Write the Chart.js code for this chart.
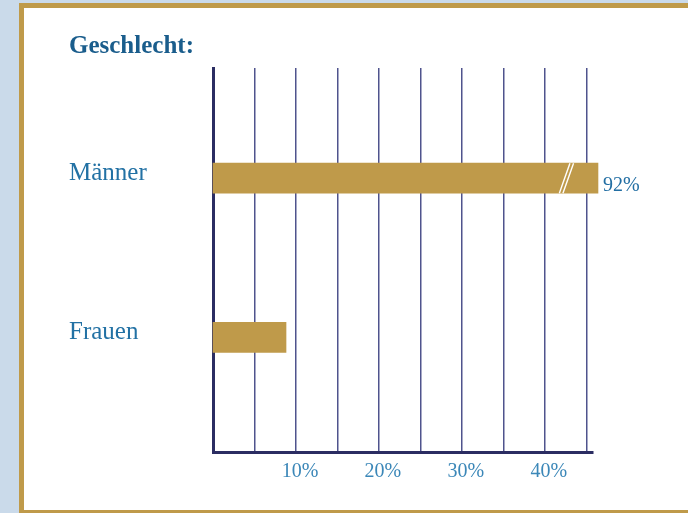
<!DOCTYPE html>
<html lang="de">
<head>
<meta charset="utf-8">
<title>Geschlecht</title>
<script src="https://cdn.jsdelivr.net/npm/chart.js@4"></script>
<style>
  html, body { margin: 0; padding: 0; }
  body { width: 688px; height: 513px; background: #cadaea; position: relative; overflow: hidden; }
  #frame {
    position: absolute; left: 19px; top: 3px; width: 700px; height: 502px;
    border: 5px solid #bf9a4a; background: #ffffff;
  }
  #wrap { position: absolute; left: 0; top: 0; width: 688px; height: 513px; }
</style>
</head>
<body>
<div id="frame"></div>
<div id="wrap"><canvas id="myChart" width="688" height="513"></canvas></div>
<script>
'use strict';

const categories = ['Männer', 'Frauen'];
const percentValues = [92, 8.8];
const valueLabels = ['92%', ''];
const gridValues = [5, 10, 15, 20, 25, 30, 35, 40, 45];
const labeledTicks = [10, 20, 30, 40];
const axisMax = 45.8;
const barCap = 46.4;   // bars above this are drawn broken
const breakAt = 42.6;

const serif = "'Liberation Serif', 'Times New Roman', serif";

// draws the break marks and the value label next to a bar
const barExtras = {
  id: 'barExtras',
  afterDatasetsDraw(chart) {
    const ctx = chart.ctx;
    const meta = chart.getDatasetMeta(0);
    const xScale = chart.scales.x;
    meta.data.forEach(function (bar, i) {
      const top = bar.y - bar.height / 2;
      const bottom = bar.y + bar.height / 2;
      if (percentValues[i] > barCap) {
        const cx = xScale.getPixelForValue(breakAt);
        ctx.save();
        ctx.strokeStyle = '#ffffff';
        ctx.lineWidth = 1.4;
        [-1.8, 1.8].forEach(function (d) {
          ctx.beginPath();
          ctx.moveTo(cx + d - 5.3, bottom);
          ctx.lineTo(cx + d + 5.3, top);
          ctx.stroke();
        });
        ctx.restore();
      }
      if (valueLabels[i]) {
        ctx.save();
        ctx.fillStyle = '#226ea3';
        ctx.font = "20px " + serif;
        ctx.textAlign = 'left';
        ctx.textBaseline = 'alphabetic';
        ctx.fillText(valueLabels[i], bar.x + 5, bar.y + 13);
        ctx.restore();
      }
    });
  }
};

function createChart() {
  const ctx = document.getElementById('myChart').getContext('2d');

  const barData = [];
  for (let i = 0; i < categories.length; i++) {
    barData.push({ x: Math.min(percentValues[i], barCap), y: i });
  }

  new Chart(ctx, {
    type: 'bar',
    data: {
      datasets: [
        {
          data: barData,
          backgroundColor: '#bf9a4a',
          borderWidth: 0,
          barThickness: 30,
          clip: false
        }
      ]
    },
    options: {
      responsive: false,
      animation: false,
      indexAxis: 'y',
      layout: { padding: { left: 69, right: 95, top: 0, bottom: 0 } },
      plugins: {
        legend: { display: false },
        tooltip: { enabled: false },
        title: {
          display: true,
          text: 'Geschlecht:',
          align: 'start',
          color: '#1a5d8c',
          font: { family: serif, size: 25, weight: 'bold' },
          padding: { top: 32, bottom: 6 }
        }
      },
      scales: {
        x: {
          type: 'linear',
          min: 0,
          max: axisMax,
          afterBuildTicks: function (axis) {
            axis.ticks = gridValues.map(function (v) { return { value: v }; });
          },
          afterFit: function (scale) { scale.height = 61; },
          grid: {
            drawTicks: false,
            color: '#4f538d',
            lineWidth: 1.5
          },
          border: { color: '#2b2d62', width: 3 },
          ticks: {
            padding: 8,
            labelOffset: 4,
            maxRotation: 0,
            autoSkip: false,
            color: '#3b87b8',
            font: { family: serif, size: 20 },
            callback: function (value) {
              return labeledTicks.indexOf(value) >= 0 ? value + '%' : '';
            }
          }
        },
        y: {
          type: 'linear',
          reverse: true,
          offset: false,
          min: -0.692,
          max: 1.72,
          afterBuildTicks: function (axis) {
            axis.ticks = categories.map(function (c, i) { return { value: i }; });
          },
          afterFit: function (scale) { scale.width = 144; },
          grid: { display: false, drawTicks: false, offset: false },
          border: { color: '#2b2d62', width: 3 },
          ticks: {
            crossAlign: 'far',
            padding: 0,
            labelOffset: -5,
            color: '#2271a4',
            font: { family: serif, size: 25 },
            callback: function (value) { return categories[value]; }
          }
        }
      }
    },
    plugins: [barExtras]
  });
}

createChart();
</script>
</body>
</html>
